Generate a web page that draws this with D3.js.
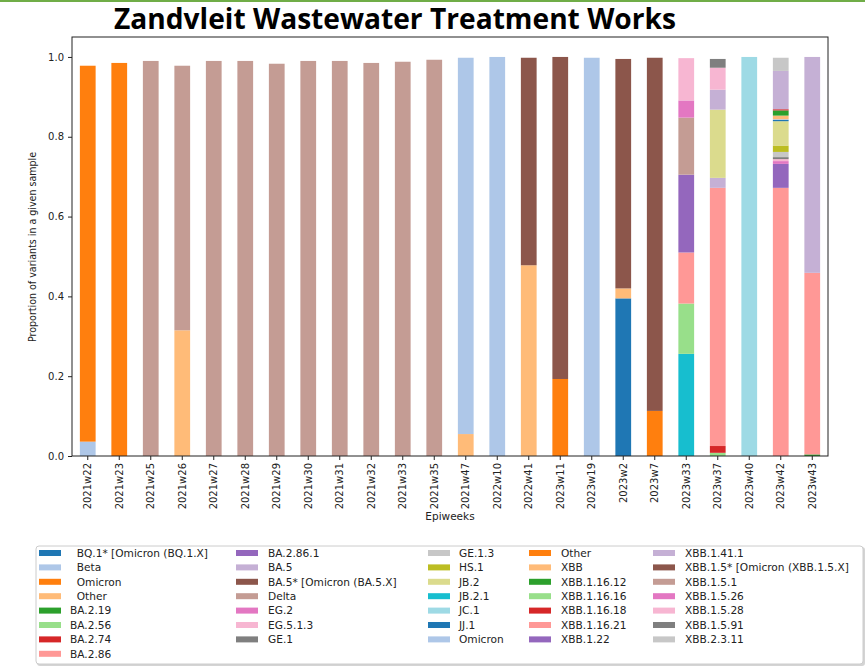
<!DOCTYPE html>
<html>
<head>
<meta charset="utf-8">
<script src="https://cdn.jsdelivr.net/npm/d3@7"></script>
<style>
  body { margin: 0; background: #fff; }
  svg { display: block; }
</style>
</head>
<body>
<div id="chart"></div>
<script>
// epiweeks on the x axis
const epiweeks = ['2021w22','2021w23','2021w25','2021w26','2021w27','2021w28','2021w29','2021w30',
  '2021w31','2021w32','2021w33','2021w35','2021w47','2022w10','2022w41','2023w11','2023w19',
  '2023w2','2023w7','2023w33','2023w37','2023w40','2023w42','2023w43'];

// legend labels, in stacking order
const variants = ['  BQ.1* [Omicron (BQ.1.X]','  Beta','  Omicron','  Other','BA.2.19','BA.2.56','BA.2.74',
  'BA.2.86','BA.2.86.1','BA.5','BA.5* [Omicron (BA.5.X]','Delta','EG.2','EG.5.1.3','GE.1',
  'GE.1.3','HS.1','JB.2','JB.2.1','JC.1','JJ.1','Omicron','Other','XBB','XBB.1.16.12',
  'XBB.1.16.16','XBB.1.16.18','XBB.1.16.21','XBB.1.22','XBB.1.41.1','XBB.1.5* [Omicron (XBB.1.5.X]',
  'XBB.1.5.1','XBB.1.5.26','XBB.1.5.28','XBB.1.5.91','XBB.2.3.11'];

// matplotlib tab20, cycled
const tab20 = ['#1f77b4','#aec7e8','#ff7f0e','#ffbb78','#2ca02c','#98df8a','#d62728','#ff9896',
  '#9467bd','#c5b0d5','#8c564b','#c49c94','#e377c2','#f7b6d2','#7f7f7f','#c7c7c7',
  '#bcbd22','#dbdb8d','#17becf','#9edae5'];

// per epiweek: [variant index, proportion]
const composition = [
  [[1, 0.036], [2, 0.942]],
  [[2, 0.985]],
  [[11, 0.990]],
  [[3, 0.315], [11, 0.663]],
  [[11, 0.990]],
  [[11, 0.990]],
  [[11, 0.983]],
  [[11, 0.990]],
  [[11, 0.990]],
  [[11, 0.985]],
  [[11, 0.988]],
  [[11, 0.993]],
  [[3, 0.055], [21, 0.943]],
  [[21, 1.000]],
  [[3, 0.478], [10, 0.520]],
  [[22, 0.193], [30, 0.807]],
  [[21, 0.998]],
  [[0, 0.395], [3, 0.025], [10, 0.575]],
  [[22, 0.113], [30, 0.885]],
  [[18, 0.256], [25, 0.126], [27, 0.128], [28, 0.195], [31, 0.143], [32, 0.043], [33, 0.106]],
  [[5, 0.008], [6, 0.017], [7, 0.647], [9, 0.025], [17, 0.171], [29, 0.050], [33, 0.055], [34, 0.022]],
  [[19, 1.000]],
  [[7, 0.672], [8, 0.060], [12, 0.007], [13, 0.005], [14, 0.005], [15, 0.013], [16, 0.016],
   [17, 0.061], [20, 0.003], [21, 0.002], [23, 0.009], [24, 0.013], [26, 0.003], [29, 0.096], [35, 0.033]],
  [[24, 0.004], [27, 0.455], [29, 0.541]]
];

const yTicks = [0, 0.2, 0.4, 0.6, 0.8, 1.0];

const W = 865, H = 669;
const margin = { top: 37, right: 37, bottom: 213, left: 72 };
const plotW = W - margin.left - margin.right;
const plotH = H - margin.top - margin.bottom;

const svg = d3.select('#chart').append('svg')
  .attr('width', W)
  .attr('height', H)
  .style('font-family', 'DejaVu Sans, sans-serif');

// green rule across the top of the slide
svg.append('rect')
  .attr('x', 0).attr('y', 0)
  .attr('width', W).attr('height', 2)
  .attr('fill', '#70ad47');

svg.append('text')
  .attr('x', 395).attr('y', 29)
  .attr('text-anchor', 'middle')
  .attr('font-family', 'Open Sans, sans-serif')
  .attr('font-weight', 'bold')
  .attr('font-size', 28)
  .attr('textLength', 562)
  .attr('lengthAdjust', 'spacingAndGlyphs')
  .attr('fill', '#000')
  .text('Zandvleit Wastewater Treatment Works');

const rows = composition.map((parts, i) => {
  const row = { week: epiweeks[i] };
  variants.forEach((v, k) => { row[k] = 0; });
  parts.forEach(([k, v]) => { row[k] = v; });
  return row;
});

const keys = variants.map((v, k) => k);
const stacked = d3.stack().keys(keys)(rows);

const x = d3.scaleBand()
  .domain(epiweeks)
  .range([0, plotW])
  .paddingInner(0.5)
  .paddingOuter(0.25);

const y = d3.scaleLinear()
  .domain([0, 1.05])
  .range([plotH, 0]);

const color = k => tab20[k % 20];

const g = svg.append('g')
  .attr('transform', `translate(${margin.left},${margin.top})`);

// ===== bars =====
g.selectAll('.series')
  .data(stacked)
  .join('g')
  .attr('class', 'series')
  .attr('fill', d => color(d.key))
  .selectAll('rect')
  .data(d => d.filter(s => s[1] - s[0] > 0))
  .join('rect')
  .attr('x', d => x(d.data.week))
  .attr('width', x.bandwidth())
  .attr('y', d => y(d[1]))
  .attr('height', d => y(d[0]) - y(d[1]));

// ===== axes =====
const yAxis = g.append('g')
  .call(d3.axisLeft(y).tickValues(yTicks).tickFormat(d3.format('.1f')).tickSize(4).tickPadding(4));

const xAxis = g.append('g')
  .attr('transform', `translate(0,${plotH})`)
  .call(d3.axisBottom(x).tickSize(4).tickPadding(3));

xAxis.selectAll('text')
  .attr('transform', 'rotate(-90)')
  .attr('text-anchor', 'end')
  .attr('x', -7)
  .attr('y', 0)
  .attr('dy', '0.35em');

[yAxis, xAxis].forEach(a => {
  a.select('.domain').remove();
  a.selectAll('text').attr('font-size', 10).attr('font-family', 'DejaVu Sans, sans-serif').attr('fill', '#222');
  a.selectAll('line').attr('stroke', '#222');
});

// frame
g.append('rect')
  .attr('x', 0).attr('y', 0)
  .attr('width', plotW).attr('height', plotH)
  .attr('fill', 'none')
  .attr('stroke', '#222')
  .attr('stroke-width', 1);

svg.append('text')
  .attr('transform', 'translate(36,247) rotate(-90)')
  .attr('text-anchor', 'middle')
  .attr('font-size', 10)
  .attr('textLength', 190)
  .attr('lengthAdjust', 'spacingAndGlyphs')
  .attr('fill', '#222')
  .text('Proportion of variants in a given sample');

svg.append('text')
  .attr('x', 450).attr('y', 520)
  .attr('text-anchor', 'middle')
  .attr('font-size', 10.5)
  .attr('fill', '#222')
  .text('Epiweeks');

// ===== legend =====
const legendCols = [
  { swatch: 39, text: 70, items: [0, 1, 2, 3, 4, 5, 6, 7] },
  { swatch: 236, text: 268, items: [8, 9, 10, 11, 12, 13, 14] },
  { swatch: 428, text: 459, items: [15, 16, 17, 18, 19, 20, 21] },
  { swatch: 529, text: 561, items: [22, 23, 24, 25, 26, 27, 28] },
  { swatch: 653, text: 685, items: [29, 30, 31, 32, 33, 34, 35] }
];

const legend = svg.append('g');

legend.append('rect')
  .attr('x', 37).attr('y', 547)
  .attr('width', 828).attr('height', 119)
  .attr('rx', 3)
  .attr('fill', '#aaa')
  .attr('opacity', 0.5);

legend.append('rect')
  .attr('x', 36).attr('y', 546)
  .attr('width', 827).attr('height', 118)
  .attr('rx', 3)
  .attr('fill', '#fff')
  .attr('stroke', '#ccc')
  .attr('stroke-width', 1);

legendCols.forEach(col => {
  col.items.forEach((k, r) => {
    const cy = 553 + r * 14.4;
    legend.append('rect')
      .attr('x', col.swatch).attr('y', cy - 3)
      .attr('width', 22).attr('height', 6)
      .attr('fill', color(k));
    legend.append('text')
      .attr('x', col.text).attr('y', cy)
      .attr('dy', '0.35em')
      .attr('font-size', 10.6)
      .attr('fill', '#222')
      .style('white-space', 'pre')
      .text(variants[k]);
  });
});
</script>
</body>
</html>
